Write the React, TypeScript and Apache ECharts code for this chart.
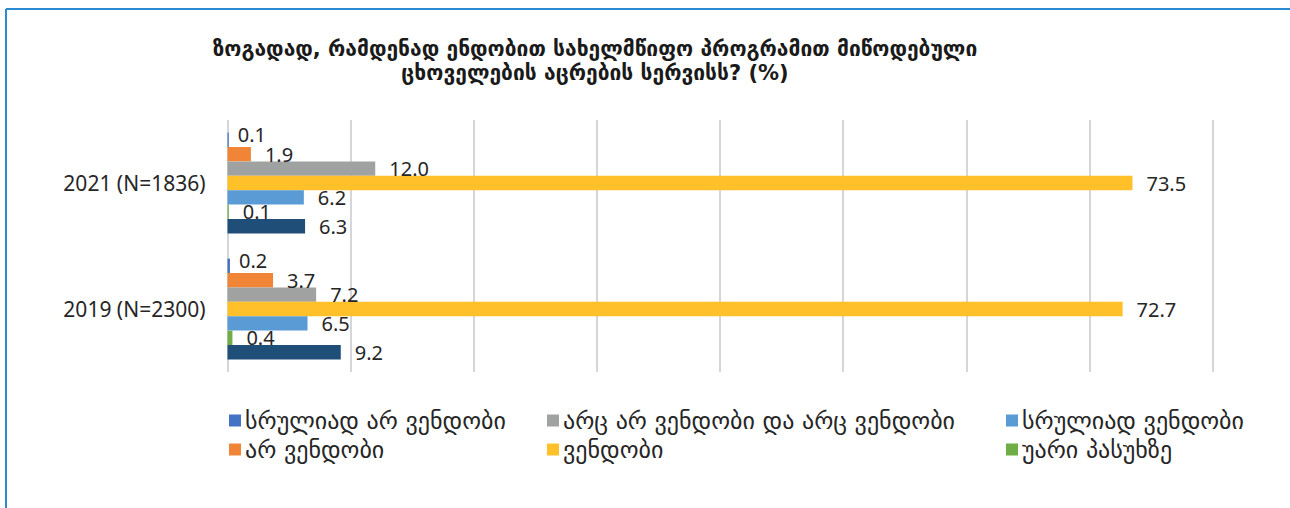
import React, { useEffect, useRef } from "react";
import * as echarts from "echarts";

const titleLines = [
  "ზოგადად, რამდენად ენდობით სახელმწიფო პროგრამით მიწოდებული",
  "ცხოველების აცრების სერვისს? (%)",
];
const categories = ["2019 (N=2300)", "2021 (N=1836)"];
// series listed from top bar to bottom bar within each category
const seriesNames = [
  "სრულიად არ ვენდობი",
  "არ ვენდობი",
  "არც არ ვენდობი და არც ვენდობი",
  "ვენდობი",
  "სრულიად ვენდობი",
  "უარი პასუხზე",
  "სერია 7",
];
const fullyDistrustValues = [0.2, 0.1];
const distrustValues = [3.7, 1.9];
const neutralValues = [7.2, 12.0];
const trustValues = [72.7, 73.5];
const fullyTrustValues = [6.5, 6.2];
const refusedValues = [0.4, 0.1];
const darkBlueValues = [9.2, 6.3];
const seriesValues = [
  fullyDistrustValues,
  distrustValues,
  neutralValues,
  trustValues,
  fullyTrustValues,
  refusedValues,
  darkBlueValues,
];
const seriesColors = [
  "#4472C4",
  "#F08538",
  "#A0A2A2",
  "#FFC02A",
  "#5B9BD5",
  "#70AD47",
  "#1F4E79",
];
const legendColumns = [
  ["სრულიად არ ვენდობი", "არ ვენდობი"],
  ["არც არ ვენდობი და არც ვენდობი", "ვენდობი"],
  ["სრულიად ვენდობი", "უარი პასუხზე"],
];
const legendLefts = [229, 547, 1006];

const GEO_FONT = "'DejaVu Sans', 'Noto Sans', sans-serif";
const NUM_FONT = "'Noto Sans', 'Open Sans', sans-serif";

export default function App() {
  const ref = useRef<HTMLDivElement>(null);
  useEffect(() => {
    document.body.style.margin = "0";
    const chart = echarts.init(ref.current!, undefined, { renderer: "svg" });
    chart.setOption({
      animation: false,
      backgroundColor: "#ffffff",
      title: {
        text: titleLines.join("\n"),
        left: 590,
        textAlign: "center",
        top: 32,
        textStyle: {
          fontFamily: GEO_FONT,
          fontWeight: "bold",
          fontSize: 21,
          lineHeight: 24,
          color: "#1a1a1a",
        },
      },
      graphic: [
        {
          type: "line",
          shape: { x1: 6, y1: 9, x2: 1290, y2: 9 },
          style: { stroke: "#2A8AD4", lineWidth: 2 },
        },
        {
          type: "line",
          shape: { x1: 6, y1: 9, x2: 6, y2: 508 },
          style: { stroke: "#2A8AD4", lineWidth: 2 },
        },
      ],
      legend: legendColumns.map((names, i) => ({
        data: names,
        orient: "vertical",
        left: legendLefts[i],
        top: 408,
        padding: 0,
        itemWidth: 12,
        itemHeight: 12,
        itemGap: 4,
        icon: "rect",
        textStyle: {
          fontFamily: GEO_FONT,
          fontSize: 24,
          lineHeight: 25,
          color: "#262626",
          padding: [0, 0, 0, -1],
        },
        selectedMode: false,
      })),
      grid: { left: 227.5, right: 77.5, top: 120, bottom: 136, containLabel: false },
      xAxis: {
        type: "value",
        min: 0,
        max: 80,
        interval: 10,
        axisLabel: { show: false },
        axisLine: { show: false },
        axisTick: { show: false },
        splitLine: { show: true, lineStyle: { color: "#C9C9CE", width: 1.5 } },
      },
      yAxis: {
        type: "category",
        data: categories,
        axisLine: { show: false },
        axisTick: { show: false },
        axisLabel: {
          margin: 22,
          fontFamily: NUM_FONT,
          fontSize: 21,
          color: "#262626",
        },
      },
      series: seriesNames.map((name, i) => ({
        type: "bar",
        name,
        data: seriesValues[i],
        barGap: "0%",
        barCategoryGap: "20%",
        itemStyle: { color: seriesColors[i] },
        label: {
          show: true,
          position: "right",
          distance: i === 0 ? 9 : 14,
          offset: i === 0 ? [0, -5] : [0, 0],
          formatter: (p: any) => Number(p.value).toFixed(1),
          fontFamily: NUM_FONT,
          fontSize: 20,
          color: "#262626",
        },
      })),
    });
    return () => chart.dispose();
  }, []);
  return <div ref={ref} style={{ width: 1290, height: 508 }} />;
}
